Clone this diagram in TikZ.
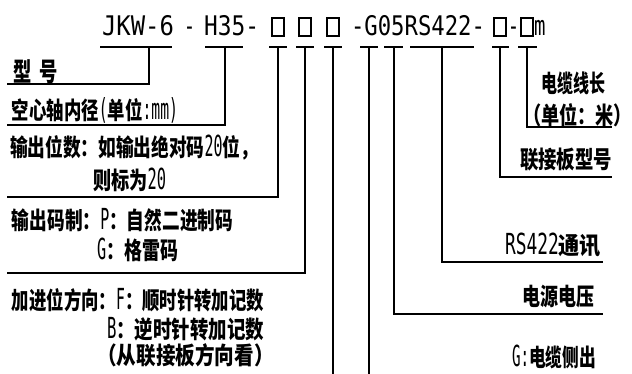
\documentclass[tikz,border=0pt]{standalone}
\usepackage{fontspec}
\usepackage{graphicx}
\newfontfamily\cjk{Noto Sans CJK SC}
\newfontfamily\latn[FakeStretch=0.7]{DejaVu Sans Mono}
\newfontfamily\hdrfont[FakeStretch=0.7]{DejaVu Sans Mono}
\newcommand\cf{\cjk\bfseries\fontsize{24}{28}\selectfont}
\newcommand\lt[1]{{\latn\mdseries\fontsize{29}{31}\selectfont #1}}
\newcommand\hf{\hdrfont\fontsize{27}{30}\selectfont}
\newcommand\fitw[2]{\resizebox{#1}{\height}{#2}}
\begin{document}
\begin{tikzpicture}[x=1pt,y=-1pt,
  ln/.style={line width=1.5pt},
  txt/.style={inner sep=0pt,outer sep=0pt,anchor=west,font=\cf},
  txe/.style={txt,anchor=east},
  hd/.style={inner sep=0pt,outer sep=0pt,anchor=base west,font=\hf},
  hdc/.style={inner sep=0pt,outer sep=0pt,anchor=base,font=\hf},
  bx/.style={draw,line width=1.3pt,inner sep=0pt,outer sep=0pt,minimum width=12pt,minimum height=18pt}]
\useasboundingbox (0,0) rectangle (632,374);
\fill[white] (0,0) rectangle (632,374);

% header
\node[hd] (h1) at (102,36) {\fitw{72pt}{JKW-6}};
\node[hdc] (h2) at (189.5,36) {-};
\node[hd] (h3) at (204,36) {\fitw{55pt}{H35-}};
\node[bx] (b1) at (278,27) {};
\node[bx] (b2) at (305,27) {};
\node[bx] (b3) at (333,27) {};
\node[hd] (h4) at (351,36) {\fitw{134pt}{-G05RS422-}};
\node[bx] (b4) at (500,27) {};
\node[hdc] (h5) at (513.5,36) {-};
\node[bx] (b5) at (527,27) {};
\node[hd] (h6) at (534,36) {m};

% T bars
\coordinate (t1a) at (100,47); \coordinate (t1b) at (172,47); \coordinate (t1) at (149,47);
\coordinate (t2a) at (205,47); \coordinate (t2b) at (243,47); \coordinate (t2) at (225,47);
\coordinate (t3a) at (269,47); \coordinate (t3b) at (287,47); \coordinate (t3) at (278,47);
\coordinate (t4a) at (296,47); \coordinate (t4b) at (314,47); \coordinate (t4) at (305,47);
\coordinate (t5a) at (324,47); \coordinate (t5b) at (342,47); \coordinate (t5) at (333,47);
\coordinate (t6a) at (360,47); \coordinate (t6b) at (378,47); \coordinate (t6) at (369,47);
\coordinate (t7a) at (384,47); \coordinate (t7b) at (403,47); \coordinate (t7) at (394,47);
\coordinate (t8a) at (410,47); \coordinate (t8b) at (474,47); \coordinate (t8) at (442,47);
\coordinate (t9a) at (492,47); \coordinate (t9b) at (509,47); \coordinate (t9) at (500,47);
\coordinate (t10a) at (518,47); \coordinate (t10b) at (537,47); \coordinate (t10) at (527,47);

\coordinate (e1) at (7,84);
\coordinate (e2) at (7,125);
\coordinate (e3) at (7,197);
\coordinate (e4) at (7,273);
\coordinate (e5) at (333,376);
\coordinate (e6) at (369,376);
\coordinate (e7) at (603,314);
\coordinate (e8) at (603,262);
\coordinate (e9) at (612,177);
\coordinate (e10) at (612,127);

\foreach \i in {1,...,10} {\draw[ln] (t\i a) -- (t\i b);}
\draw[ln] (t1) |- (e1);
\draw[ln] (t2) |- (e2);
\draw[ln] (t3) |- (e3);
\draw[ln] (t4) |- (e4);
\draw[ln] (t5) -- (e5);
\draw[ln] (t6) -- (e6);
\draw[ln] (t7) |- (e7);
\draw[ln] (t8) |- (e8);
\draw[ln] (t9) |- (e9);
\draw[ln] (t10) |- (e10);

% left labels
\node[txt] (n1) at (13,72) {\fitw{45pt}{\fontsize{26}{28}\selectfont 型\hspace{12pt}号}};
\node[txt] (n2) at (12,110) {\fitw{166pt}{空心轴内径\lt{(}单位\lt{:mm)}}};
\node[txt] (n3) at (10,148) {\fitw{248pt}{输出位数：如输出绝对码\lt{20}位，}};
\node[txt] (n4) at (93,180) {\fitw{73pt}{则标为\lt{20}}};
\node[txt] (n5) at (12,220) {\fitw{221pt}{输出码制：\lt{P}：自然二进制码}};
\node[txt] (n6) at (97,250) {\fitw{81pt}{\lt{G}：格雷码}};
\node[txt] (n7) at (12,300) {\fitw{252pt}{加进位方向：\lt{F}：顺时针转加记数}};
\node[txt] (n8) at (107,329) {\fitw{157pt}{\lt{B}：逆时针转加记数}};
\node[txt] (n9) at (108,355) {\fitw{155pt}{\hspace{-13pt}（从联接板方向看）\hspace{-13pt}}};

% right labels
\node[txt] (r1) at (541,83) {\fitw{64pt}{电缆线长}};
\node[txe] (r2) at (632,115) {\fitw{99pt}{\hspace{-13pt}（单位：米）}};
\node[txe] (r3) at (612,160) {\fitw{92pt}{联接板型号}};
\node[txe] (r4) at (601,245) {\fitw{96pt}{\lt{RS422}通讯}};
\node[txe] (r5) at (594,297) {\fitw{72pt}{电源电压}};
\node[txe] (r6) at (596,357) {\fitw{84pt}{\lt{G:}电缆侧出}};
\end{tikzpicture}
\end{document}
